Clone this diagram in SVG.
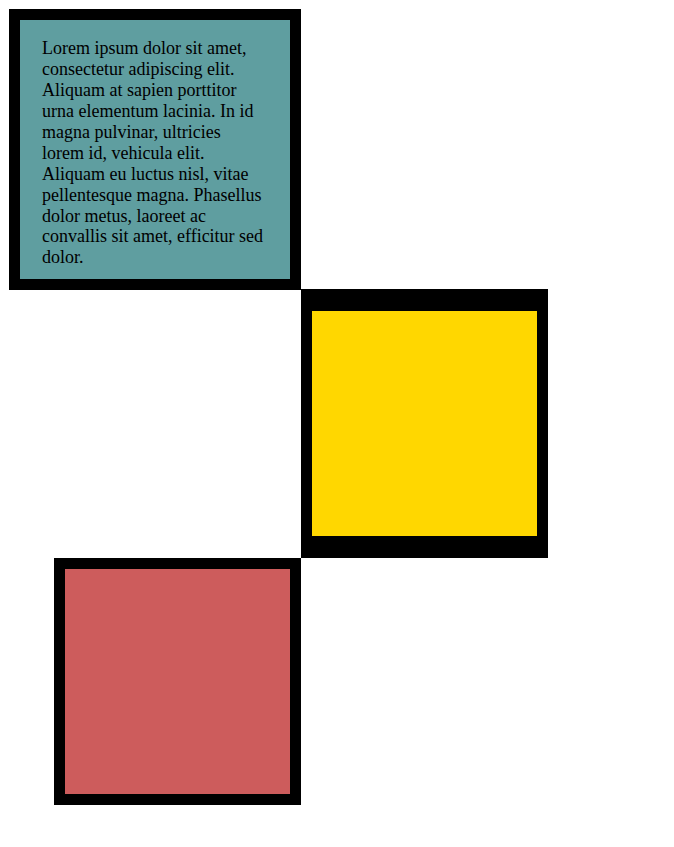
<svg xmlns="http://www.w3.org/2000/svg" width="674" height="847" viewBox="0 0 674 847">
<style>
.frame{fill:#000}
.txt{font-family:"Liberation Serif","Times New Roman",serif;font-size:18px;fill:#000}
</style>
<rect width="674" height="847" fill="#fff"/>
<g id="node-teal">
<rect class="frame" x="9" y="9" width="292" height="281"/>
<rect x="20" y="20" width="270" height="259" fill="#5F9EA0"/>
<text class="txt">
<tspan x="42" y="54.3">Lorem ipsum dolor sit amet,</tspan>
<tspan x="42" y="75.2">consectetur adipiscing elit.</tspan>
<tspan x="42" y="96.1">Aliquam at sapien porttitor</tspan>
<tspan x="42" y="117">urna elementum lacinia. In id</tspan>
<tspan x="42" y="137.9">magna pulvinar, ultricies</tspan>
<tspan x="42" y="158.8">lorem id, vehicula elit.</tspan>
<tspan x="42" y="179.7">Aliquam eu luctus nisl, vitae</tspan>
<tspan x="42" y="200.6">pellentesque magna. Phasellus</tspan>
<tspan x="42" y="221.5">dolor metus, laoreet ac</tspan>
<tspan x="42" y="242.4">convallis sit amet, efficitur sed</tspan>
<tspan x="42" y="263.3">dolor.</tspan>
</text>
</g>
<g id="node-gold">
<rect class="frame" x="301" y="289" width="247" height="269"/>
<rect x="312" y="311" width="225" height="225" fill="#FFD700"/>
</g>
<g id="node-red">
<rect class="frame" x="54" y="558" width="247" height="247"/>
<rect x="65" y="569" width="225" height="225" fill="#CD5C5C"/>
</g>
<g id="connectors"/>
</svg>
